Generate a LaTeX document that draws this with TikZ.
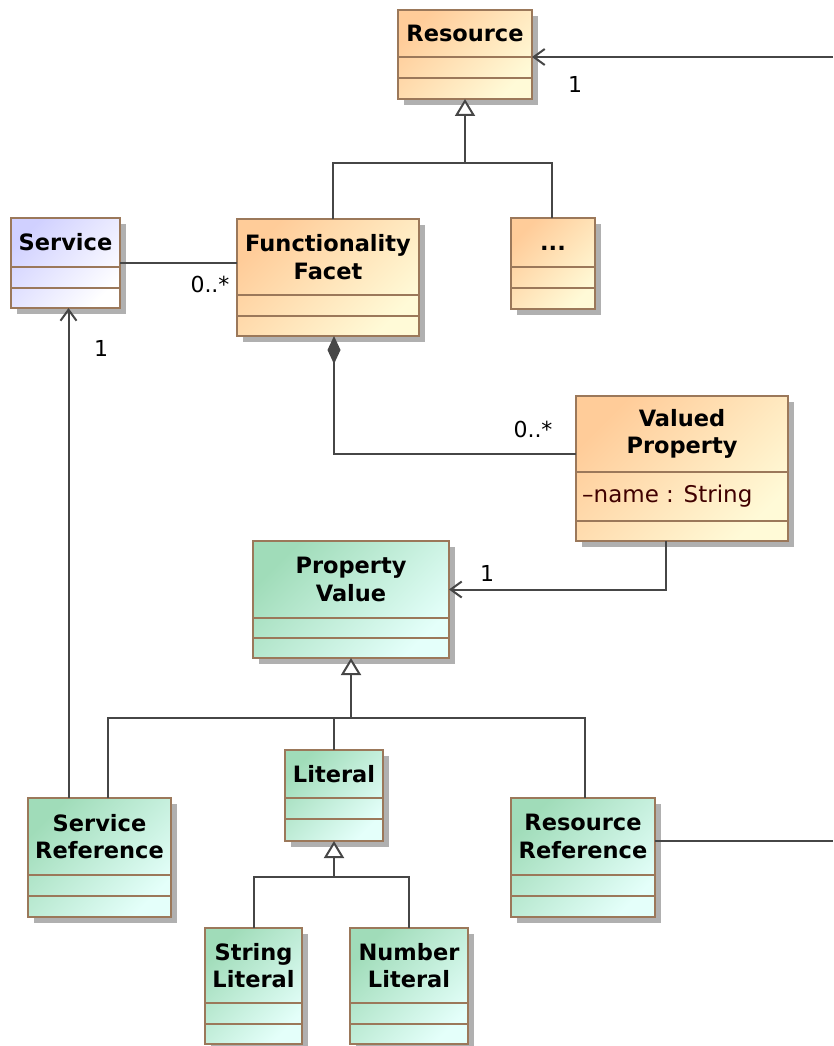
\documentclass[tikz,border=0pt]{standalone}
\usepackage{fontspec}
\setmainfont{DejaVu Sans}
\usetikzlibrary{arrows.meta,shadows}

\definecolor{orangeA}{RGB}{255,204,153}
\definecolor{orangeB}{RGB}{255,250,215}
\definecolor{greenA}{RGB}{160,220,185}
\definecolor{greenB}{RGB}{228,255,250}
\definecolor{blueA}{RGB}{208,208,255}
\definecolor{blueB}{RGB}{255,255,255}
\definecolor{classborder}{RGB}{155,120,90}
\definecolor{linegray}{RGB}{70,70,70}
\definecolor{shadowgray}{RGB}{176,176,176}
\definecolor{attrred}{RGB}{64,0,0}

\tikzset{
	classbox/.style={draw=classborder,line width=2pt,anchor=north west,inner sep=0pt,outer sep=0pt,
		drop shadow={shadow xshift=6pt,shadow yshift=-6pt,fill=shadowgray,opacity=1}},
	orangebox/.style={classbox,left color=orangeA,right color=orangeB,shading angle=45},
	greenbox/.style={classbox,left color=greenA,right color=greenB,shading angle=45},
	bluebox/.style={classbox,left color=blueA,right color=blueB,shading angle=45},
	compline/.style={draw=classborder,line width=2pt},
	classname/.style={font=\fontsize{22.5}{27.5}\selectfont\bfseries,align=center,inner sep=0pt},
	attr/.style={text=attrred,anchor=west,inner sep=0pt,font=\fontsize{23}{28}\selectfont},
	mult/.style={inner sep=0pt},
	assocline/.style={draw=linegray,line width=2pt},
	navig/.style={assocline,-{Straight Barb[length=11pt,width=16pt]}},
	inherit/.style={assocline,-{Triangle[open,length=17pt,width=20pt,fill=white]}},
	compos/.style={assocline,{Diamond[length=28pt,width=13pt]}-}
}

% #1 name, #2 style, #3 left, #4 top, #5 right, #6 first line, #7 second line, #8 bottom, #9 title
\newcommand{\umlclass}[9]{%
	\node[#2,minimum width={(#5-#3)*1pt},minimum height={(#8-#4)*1pt}] (#1) at (#3,-#4) {};
	\draw[compline] (#3,-#6) -- (#5,-#6) (#3,-#7) -- (#5,-#7);
	\node[classname] (#1-name) at ({(#3+#5)/2},{-(#4+#6)/2}) {#9};
}

\begin{document}
\begin{tikzpicture}[x=1pt,y=1pt,font=\fontsize{22}{27}\selectfont]
		\useasboundingbox (0,0) rectangle (833,-1046);

		% draw the classes
		\umlclass{resource}{orangebox}{398}{10}{532}{57}{78}{99}{Resource}
		\umlclass{service}{bluebox}{11}{218}{120}{267}{288}{308}{Service}
		\umlclass{facet}{orangebox}{237}{219}{419}{295}{316}{336}{Functionality\\Facet}
		\umlclass{etc}{orangebox}{511}{218}{595}{267}{288}{309}{\vphantom{S}...}
		\umlclass{vprop}{orangebox}{576}{396}{788}{472}{521}{541}{Valued\\Property}
		\umlclass{pval}{greenbox}{253}{541}{449}{618}{638}{658}{Property\\Value}
		\umlclass{literal}{greenbox}{285}{750}{383}{798}{819}{841}{Literal}
		\umlclass{sref}{greenbox}{28}{798}{171}{875}{896}{917}{Service\\Reference}
		\umlclass{rref}{greenbox}{511}{798}{655}{875}{896}{917}{Resource\\Reference}
		\umlclass{strlit}{greenbox}{205}{928}{302}{1003}{1024}{1044}{String\\Literal}
		\umlclass{numlit}{greenbox}{350}{928}{468}{1003}{1024}{1044}{Number\\Literal}

		% the attribute of the valued property
		\node[attr] (vprop-attr) at (582,-496) {–name : String};

		% helper points for the bends and the free ends
		\coordinate (resjoin) at (465,-163);
		\coordinate (resfar) at (833,-57);
		\coordinate (vpjoin) at (334,-454);
		\coordinate (pvjoin) at ([yshift=-60pt]pval.south);
		\coordinate (litjoin) at ([yshift=-36pt]literal.south);
		\coordinate (rreffar) at (833,-841);

		% generalizations
		\draw[assocline] ([xshift=5pt]facet.north) |- (resjoin) -| ([xshift=-1pt]etc.north);
		\draw[inherit] (resjoin) -- (resource.south);
		\draw[assocline] ([xshift=8pt]sref.north) |- (pvjoin) -| ([xshift=2pt]rref.north);
		\draw[assocline] (literal.north) |- (pvjoin);
		\draw[inherit] (pvjoin) -- (pval.south);
		\draw[assocline] (strlit.north) |- (litjoin) -| (numlit.north);
		\draw[inherit] (litjoin) -- (literal.south);

		% associations
		\draw[navig] (resfar) -- (resfar -| resource.east);
		\draw[assocline] (service.east) -- (service.east -| facet.west);
		\draw[navig] ([xshift=-31pt]sref.north) -- ([xshift=-31pt]sref.north |- service.south);
		\draw[compos] ([xshift=6pt]facet.south) |- (vpjoin -| vprop.west);
		\draw[navig] ([xshift=-16pt]vprop.south) |- ([yshift=10pt]pval.east);
		\draw[assocline] (rreffar -| rref.east) -- (rreffar);

		% draw the multiplicities
		\draw (575,-84) node[mult] (m-res) {1}
			(210,-284) node[mult] (m-facet) {0..*}
			(101,-348) node[mult] (m-service) {1}
			(533,-429) node[mult] (m-vprop) {0..*}
			(487,-573) node[mult] (m-pval) {1};
	\end{tikzpicture}
\end{document}
